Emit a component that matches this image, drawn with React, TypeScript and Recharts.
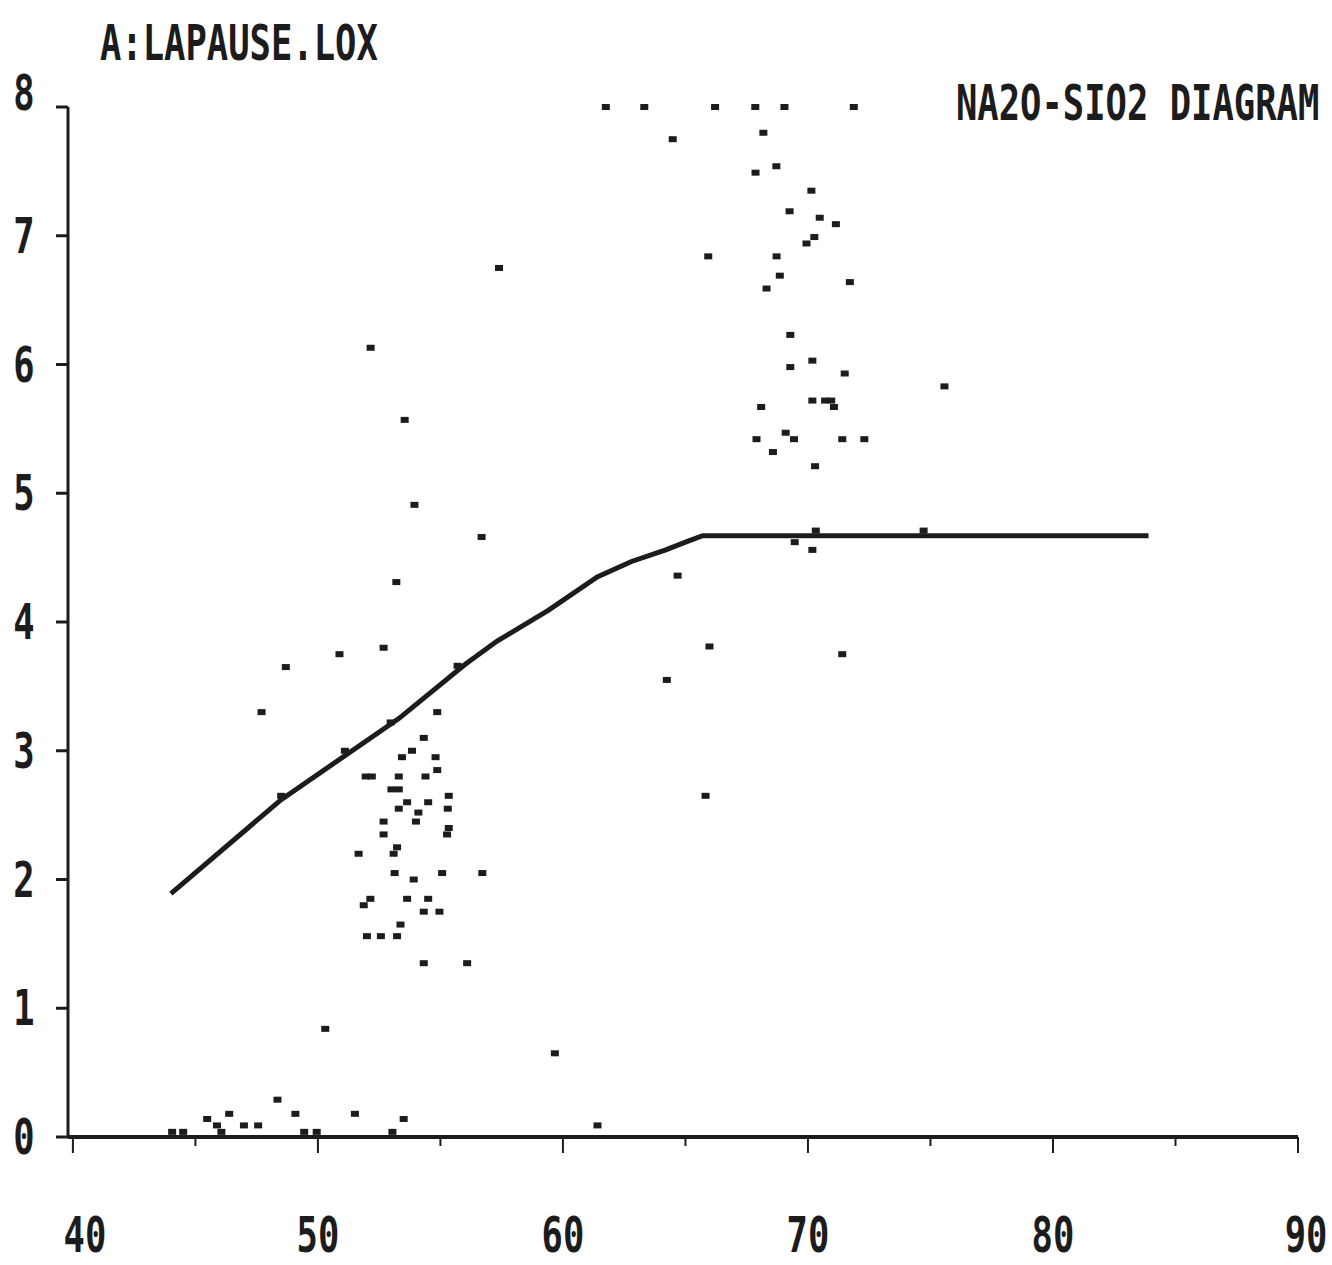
import { ScatterChart, Scatter, XAxis, YAxis } from "recharts";

const FONT = '"DejaVu Sans Mono", monospace';
const INK = "#1c1c1c";

const xTicks = [40, 45, 50, 55, 60, 65, 70, 75, 80, 85, 90];
const yTicks = [0, 1, 2, 3, 4, 5, 6, 7, 8];

// alkaline / subalkaline dividing line
const dividerSiO2 = [44.0, 48.5, 53.3, 56.0, 57.3, 59.4, 61.4, 62.8, 64.2, 65.0, 65.7, 83.9];
const dividerNa2O = [1.89, 2.62, 3.25, 3.67, 3.85, 4.09, 4.35, 4.47, 4.56, 4.62, 4.67, 4.67];

// samples as [SiO2, Na2O]
const felsicSamples: [number, number][] = [
  [61.75, 8.0], [63.32, 8.0], [66.21, 8.0], [67.85, 8.0], [69.04, 8.0], [71.87, 8.0],
  [68.18, 7.8], [64.48, 7.75], [68.71, 7.54], [67.86, 7.49], [70.14, 7.35], [69.25, 7.19],
  [70.48, 7.14], [71.14, 7.09], [70.26, 6.99], [69.94, 6.94], [65.93, 6.84], [68.72, 6.84],
  [68.85, 6.69], [71.71, 6.64], [68.31, 6.59], [69.28, 6.23], [70.18, 6.03], [69.28, 5.98],
  [71.5, 5.93], [75.57, 5.83], [68.09, 5.67], [70.18, 5.72], [70.7, 5.72], [70.95, 5.72],
  [71.06, 5.67], [67.9, 5.42], [69.09, 5.47], [69.43, 5.42], [71.4, 5.42], [72.3, 5.42],
  [68.57, 5.32], [70.29, 5.21], [70.32, 4.71], [69.46, 4.62], [70.18, 4.56], [74.72, 4.71],
  [71.4, 3.75], [64.68, 4.36], [65.98, 3.81], [64.24, 3.55], [65.82, 2.65],
];

const intermediateSamples: [number, number][] = [
  [57.39, 6.75], [52.15, 6.13], [53.54, 5.57], [53.94, 4.91], [56.68, 4.66], [53.2, 4.31],
  [50.88, 3.75], [52.68, 3.8], [48.69, 3.65], [47.7, 3.3], [48.5, 2.65], [51.1, 3.0],
  [55.7, 3.66], [52.97, 3.22],
];

const maficSamples: [number, number][] = [
  [54.87, 3.3], [54.32, 3.1], [53.84, 3.0], [53.43, 2.95], [54.8, 2.95], [54.87, 2.85],
  [51.95, 2.8], [52.2, 2.8], [53.3, 2.8], [54.39, 2.8], [53.0, 2.7], [53.3, 2.7],
  [55.34, 2.65], [53.64, 2.6], [54.5, 2.6], [53.3, 2.55], [55.3, 2.55], [52.68, 2.45],
  [54.0, 2.45], [54.1, 2.52], [55.34, 2.4], [52.68, 2.35], [55.27, 2.35], [53.23, 2.25],
  [51.66, 2.2], [53.09, 2.2], [53.13, 2.05], [55.07, 2.05], [56.71, 2.05], [53.91, 2.0],
  [52.14, 1.85], [51.87, 1.8], [53.64, 1.85], [54.5, 1.85], [54.32, 1.75], [54.96, 1.75],
  [53.37, 1.65], [52.0, 1.56], [52.57, 1.56], [53.23, 1.56], [54.32, 1.35], [56.09, 1.35],
];

const lowSodaSamples: [number, number][] = [
  [50.3, 0.84], [59.67, 0.65], [61.41, 0.09], [48.35, 0.29], [46.38, 0.18], [45.48, 0.14],
  [49.08, 0.18], [51.51, 0.18], [53.5, 0.14], [46.98, 0.09], [47.56, 0.09], [45.88, 0.09],
  [46.06, 0.04], [44.05, 0.04], [44.5, 0.04], [49.44, 0.04], [49.95, 0.04], [53.04, 0.04],
];

const divider = dividerSiO2.map((x, i) => ({ x, y: dividerNa2O[i] }));
const samples = [...felsicSamples, ...intermediateSamples, ...maficSamples, ...lowSodaSamples].map(
  ([x, y]) => ({ x, y })
);

// narrow, tall lettering in the style of a dot-matrix plotter font
const Condensed = ({ x, y, anchor = "start", children }: any) => (
  <text
    transform={`translate(${x},${y}) scale(0.74,1.05)`}
    textAnchor={anchor}
    fontFamily={FONT}
    fontWeight="bold"
    fontSize={48}
    fill={INK}
  >
    {children}
  </text>
);

const Marker = (props: any) => {
  const { cx, cy } = props;
  if (cx == null || cy == null) return <g />;
  return <rect x={cx - 4} y={cy - 3} width={8} height={6} fill={INK} />;
};

const XTick = ({ x, y, payload }: any) => {
  const v = payload.value;
  const major = v % 10 === 0;
  const shift = v === 40 ? 12 : v === 90 ? 8 : 0;
  return (
    <g>
      <line x1={x} x2={x} y1={y} y2={y + (major ? 16 : 9)} stroke={INK} strokeWidth={2} />
      {major && (
        <Condensed x={x + shift} y={y + 115} anchor="middle">
          {v}
        </Condensed>
      )}
    </g>
  );
};

const YTick = ({ x, y, payload }: any) => {
  const v = payload.value;
  return (
    <g>
      <line x1={x - 12} x2={x} y1={y} y2={y} stroke={INK} strokeWidth={3} />
      <Condensed x={x - 44} y={y + (v === 8 ? 3 : 17)} anchor="middle">
        {v}
      </Condensed>
    </g>
  );
};

export default function App() {
  return (
    <div style={{ position: "absolute", left: 0, top: 0, width: 1332, height: 1265, background: "#fff" }}>
      <ScatterChart width={1332} height={1265} margin={{ top: 107, right: 34, bottom: 127, left: 67 }}>
        <XAxis
          type="number"
          dataKey="x"
          domain={[39.8, 90]}
          ticks={xTicks}
          height={1}
          tickSize={0}
          tickMargin={0}
          tickLine={false}
          axisLine={{ stroke: INK, strokeWidth: 4 }}
          tick={<XTick />}
        />
        <YAxis
          type="number"
          dataKey="y"
          domain={[0, 8]}
          ticks={yTicks}
          width={1}
          tickSize={0}
          tickMargin={0}
          tickLine={false}
          axisLine={{ stroke: INK, strokeWidth: 3 }}
          tick={<YTick />}
        />
        <Scatter
          data={divider}
          line={{ stroke: INK, strokeWidth: 5 }}
          shape={() => <g />}
          isAnimationActive={false}
        />
        <Scatter data={samples} shape={<Marker />} isAnimationActive={false} />
      </ScatterChart>
      <svg
        width={1332}
        height={1265}
        style={{ position: "absolute", left: 0, top: 0, pointerEvents: "none" }}
      >
        <Condensed x={100} y={60}>A:LAPAUSE.LOX</Condensed>
        <Condensed x={956} y={120}>NA2O-SIO2 DIAGRAM</Condensed>
      </svg>
    </div>
  );
}
